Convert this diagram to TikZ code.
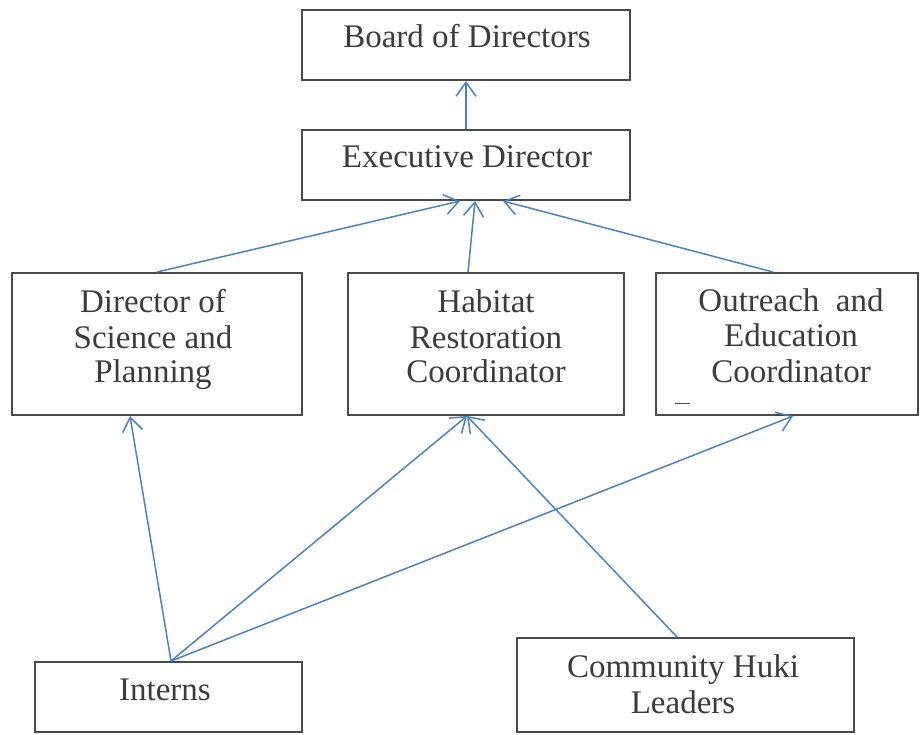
\documentclass[tikz,border=0pt]{standalone}
\usepackage{fontspec}
\setmainfont{Liberation Serif}
\usetikzlibrary{arrows.meta,calc}
\definecolor{boxline}{HTML}{4A4A4A}
\definecolor{txtcol}{HTML}{3C3C3C}
\definecolor{arrcol}{HTML}{4F81BD}
\begin{document}
\begin{tikzpicture}[x=1pt,y=-1pt,
  box/.style={draw=boxline, line width=2pt, rectangle, inner sep=0pt},
  lbl/.style={anchor=base, text=txtcol, inner sep=0pt, font=\fontsize{33}{35}\selectfont},
  link/.style={draw=arrcol, line width=1.5pt, -{Straight Barb[length=14pt,width=20pt]}}]
\useasboundingbox[fill=white] (0,0) rectangle (923,734);

% boxes
\node[box, minimum width=328pt, minimum height=70pt]  (board)   at (466,45)    {};
\node[box, minimum width=328pt, minimum height=70pt]  (exec)    at (466,165)   {};
\node[box, minimum width=290pt, minimum height=142pt] (dsp)     at (157,344)   {};
\node[box, minimum width=276pt, minimum height=142pt] (hab)     at (486,344)   {};
\node[box, minimum width=262pt, minimum height=142pt] (out)     at (787,344)   {};
\node[box, minimum width=267pt, minimum height=70pt]  (interns) at (168.5,697) {};
\node[box, minimum width=337pt, minimum height=94pt]  (chl)     at (685.5,685) {};

% labels
\node[lbl] (boardT) at (467,47) {Board of Directors};
\node[lbl] (execT)  at (467,167) {Executive Director};
\node[lbl] (dspA) at (153,312) {Director of};
\node[lbl] (dspB) at (153,348) {Science and};
\node[lbl] (dspC) at (153,382) {Planning};
\node[lbl] (habA) at (486,312) {Habitat};
\node[lbl] (habB) at (486,348) {Restoration};
\node[lbl] (habC) at (486,382) {Coordinator};
\node[lbl] (outA) at (791,311) {Outreach\ \ and};
\node[lbl] (outB) at (791,346) {Education};
\node[lbl] (outC) at (791,382) {Coordinator};
\node[lbl] (intT) at (165,700) {Interns};
\node[lbl] (chlA) at (683,677) {Community Huki};
\node[lbl] (chlB) at (683,713) {Leaders};
\draw[boxline, line width=1pt] (675,403) -- (690,403);

% connectors
\draw[link] (exec.north) -- (board.south);
\draw[link] (dsp.north) -- ($(exec.south)+(-6,0)$);
\draw[link] ($(hab.north)+(-18,0)$) -- ($(exec.south)+(9,0)$);
\draw[link] ($(out.north)+(-14,0)$) -- ($(exec.south)+(37,0)$);
\draw[link] ($(interns.north)+(2.5,0)$) -- ($(dsp.south)+(-27,0)$);
\draw[link] ($(interns.north)+(2.5,0)$) -- ($(hab.south)+(-19,0)$);
\draw[link] ($(interns.north)+(2.5,0)$) -- ($(out.south)+(6,0)$);
\draw[link] ($(chl.north)+(-8.5,0)$) -- ($(hab.south)+(-19,0)$);
\end{tikzpicture}
\end{document}
